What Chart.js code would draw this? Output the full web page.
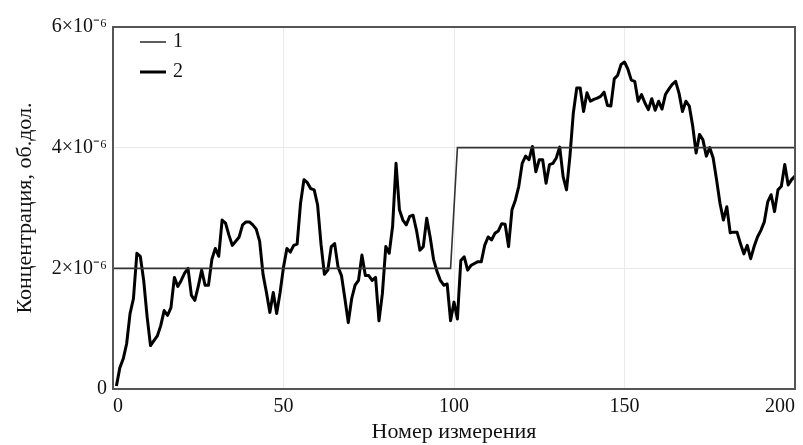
<html>
<head>
    <meta charset="utf-8" />
    <script src="https://cdn.jsdelivr.net/npm/chart.js@4"></script>
    <title>Концентрация</title>
    <style>
        body { margin: 0; background: #fff; }
    </style>
</head>
<body>
    <div style="width:803px;height:445px"><canvas id="line-chart"></canvas></div>
    <script>
        // series 1: step (measurement number -> concentration)
        const stepX = [0, 99, 101, 200];
        const stepY = [2e-6, 2e-6, 4e-6, 4e-6];

        // series 2: measured values, x10^-6, measurement 1..200
        const measuredMicro = [
            0.05, 0.35, 0.5, 0.75, 1.25, 1.5, 2.25, 2.2, 1.8, 1.2,
            0.72, 0.8, 0.88, 1.05, 1.3, 1.22, 1.35, 1.85, 1.7, 1.8,
            1.92, 2.0, 1.55, 1.47, 1.7, 1.97, 1.72, 1.72, 2.15, 2.33,
            2.2, 2.8, 2.75, 2.55, 2.38, 2.45, 2.52, 2.72, 2.77, 2.77,
            2.72, 2.65, 2.45, 1.9, 1.6, 1.27, 1.6, 1.25, 1.6, 2.02,
            2.33, 2.27, 2.38, 2.4, 3.08, 3.47, 3.42, 3.32, 3.3, 3.05,
            2.4, 1.9, 1.97, 2.36, 2.41, 2.02, 1.88, 1.5, 1.1, 1.5,
            1.72, 1.8, 2.22, 1.88, 1.88, 1.8, 1.85, 1.13, 1.58, 2.36,
            2.25, 2.7, 3.74, 2.97, 2.8, 2.72, 2.86, 2.88, 2.63, 2.3,
            2.36, 2.83, 2.52, 2.15, 1.95, 1.8, 1.72, 1.74, 1.13, 1.44,
            1.16, 2.13, 2.19, 1.97, 2.05, 2.08, 2.11, 2.11, 2.38, 2.52,
            2.47, 2.58, 2.62, 2.74, 2.73, 2.36, 2.97, 3.13, 3.36, 3.74,
            3.86, 3.8, 4.02, 3.6, 3.8, 3.8, 3.41, 3.72, 3.74, 3.83,
            4.01, 3.52, 3.3, 3.86, 4.58, 4.99, 4.99, 4.6, 4.91, 4.77,
            4.8, 4.82, 4.85, 4.92, 4.7, 4.69, 5.14, 5.2, 5.38, 5.42,
            5.3, 5.12, 5.1, 4.77, 4.88, 4.74, 4.63, 4.81, 4.62, 4.77,
            4.64, 4.88, 4.97, 5.05, 5.1, 4.9, 4.6, 4.77, 4.69, 4.36,
            3.91, 4.22, 4.13, 3.86, 4.0, 3.83, 3.47, 3.08, 2.8, 3.02,
            2.59, 2.6, 2.6, 2.41, 2.24, 2.38, 2.16, 2.36, 2.52, 2.63,
            2.77, 3.1, 3.22, 2.94, 3.3, 3.36, 3.72, 3.38, 3.47, 3.53
        ];

        const xTickLabels = ["0", "50", "100", "150", "200"];
        const yTickLabels = ["0", "2\u00d710\u207b\u2076", "4\u00d710\u207b\u2076", "6\u00d710\u207b\u2076"];
        const legendLabels = ["1", "2"];

        const FONT = "'Liberation Serif', 'Times New Roman', serif";

        const stepData = stepX.map((x, i) => ({ x: x, y: stepY[i] }));
        const measuredData = measuredMicro.map((v, i) => ({ x: i + 1, y: v * 1e-6 }));

        // frame round the plot + legend inside top-left
        const framePlugin = {
            id: 'frame',
            afterDraw(chart) {
                const ctx = chart.ctx;
                const a = chart.chartArea;
                ctx.save();
                ctx.strokeStyle = '#555';
                ctx.lineWidth = 2;
                ctx.strokeRect(a.left, a.top, a.right - a.left, a.bottom - a.top);

                ctx.font = "20px " + FONT;
                ctx.textBaseline = 'middle';
                ctx.fillStyle = '#111';
                chart.data.datasets.forEach((ds, i) => {
                    const y = a.top + 15 + i * 30;
                    ctx.beginPath();
                    ctx.strokeStyle = ds.borderColor;
                    ctx.lineWidth = ds.borderWidth;
                    ctx.moveTo(a.left + 27, y);
                    ctx.lineTo(a.left + 53, y);
                    ctx.stroke();
                    ctx.fillText(legendLabels[i], a.left + 60, y);
                });
                ctx.restore();
            }
        };

        new Chart(document.getElementById("line-chart"), {
            type: 'line',
            data: {
                datasets: [
                    {
                        label: legendLabels[0],
                        data: stepData,
                        borderColor: '#333',
                        borderWidth: 1.6,
                        pointRadius: 0,
                        tension: 0
                    },
                    {
                        label: legendLabels[1],
                        data: measuredData,
                        borderColor: '#000',
                        borderWidth: 3,
                        borderJoinStyle: 'round',
                        pointRadius: 0,
                        tension: 0
                    }
                ]
            },
            options: {
                responsive: true,
                maintainAspectRatio: false,
                animation: false,
                layout: { padding: { top: 27, right: 8, left: 0, bottom: 0 } },
                plugins: {
                    legend: { display: false },
                    tooltip: { enabled: false }
                },
                scales: {
                    x: {
                        type: 'linear',
                        min: 0,
                        max: 200,
                        afterFit: s => { s.height = 56; s.paddingLeft = 0; s.paddingRight = 0; },
                        ticks: {
                            stepSize: 50,
                            maxRotation: 0,
                            align: 'inner',
                            color: '#111',
                            padding: 6,
                            font: { family: FONT, size: 20 },
                            callback: (v, i) => xTickLabels[i]
                        },
                        grid: { color: '#eaeaea', drawTicks: false },
                        border: { display: false },
                        title: {
                            display: true,
                            text: 'Номер измерения',
                            color: '#111',
                            padding: { top: 0, bottom: 0 },
                            font: { family: FONT, size: 22 }
                        }
                    },
                    y: {
                        min: 0,
                        max: 6e-6,
                        afterFit: s => { s.width = 113; s.paddingTop = 0; s.paddingBottom = 0; },
                        ticks: {
                            stepSize: 2e-6,
                            color: '#111',
                            padding: 6,
                            font: { family: FONT, size: 20 },
                            callback: (v, i) => yTickLabels[i]
                        },
                        grid: { color: '#eaeaea', drawTicks: false },
                        border: { display: false },
                        title: {
                            display: true,
                            text: 'Концентрация, об.дол.',
                            color: '#111',
                            padding: { top: 12, bottom: 0 },
                            font: { family: FONT, size: 22 }
                        }
                    }
                }
            },
            plugins: [framePlugin]
        });
    </script>
</body>
</html>
